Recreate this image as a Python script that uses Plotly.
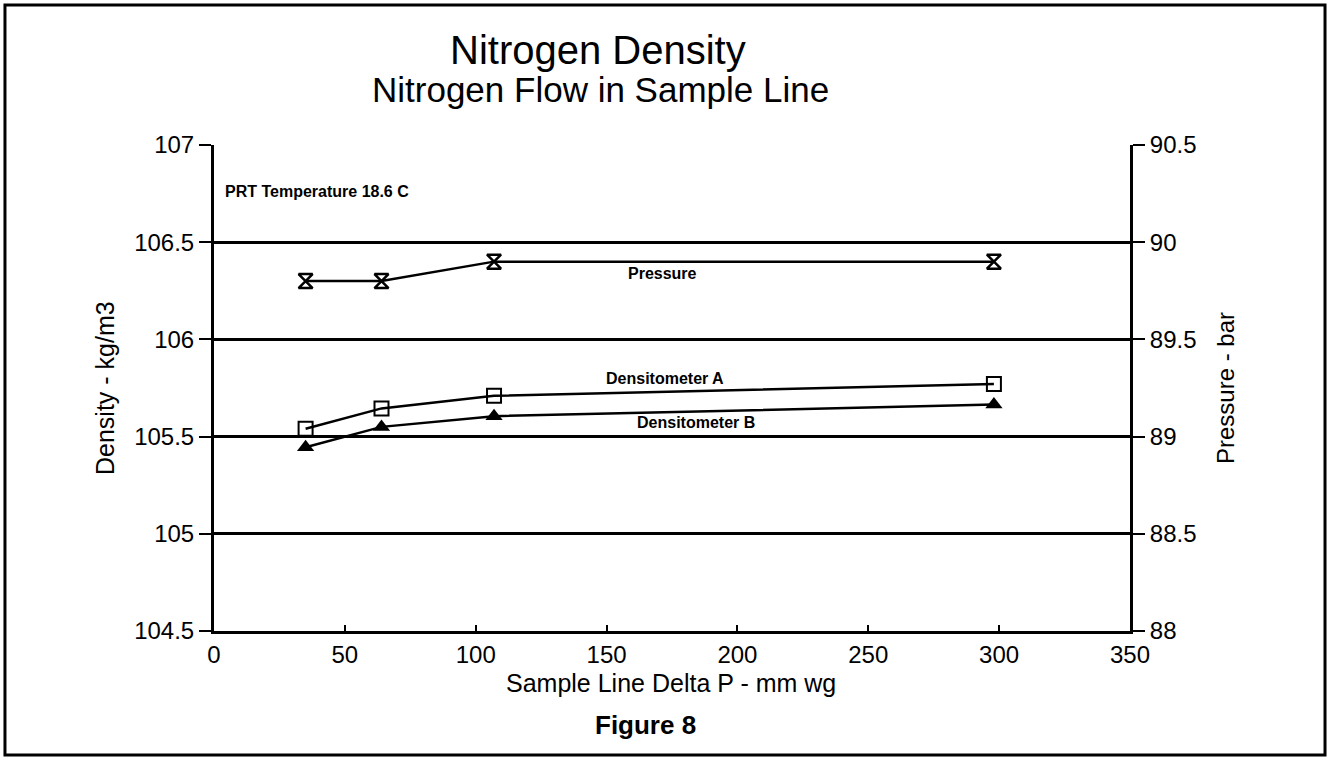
import plotly.graph_objects as go

# ---- data ----
delta_p = [35, 64, 107, 298]                      # Sample Line Delta P - mm wg
density_a = [105.54, 105.645, 105.71, 105.77]     # Densitometer A, kg/m3
density_b = [105.445, 105.55, 105.605, 105.665]   # Densitometer B, kg/m3
pressure = [89.8, 89.8, 89.9, 89.9]               # Pressure, bar

x_ticks = [0, 50, 100, 150, 200, 250, 300, 350]
y_ticks = [104.5, 105, 105.5, 106, 106.5, 107]
y2_ticks = [88, 88.5, 89, 89.5, 90, 90.5]

FONT = "Liberation Sans, Arial, sans-serif"
BLACK = "black"

fig = go.Figure()

fig.add_trace(go.Scatter(
    x=delta_p, y=density_a, mode="lines+markers", name="Densitometer A",
    line=dict(color=BLACK, width=2.5),
    marker=dict(symbol="square-open", size=14, color=BLACK, line=dict(width=2, color=BLACK)),
))
fig.add_trace(go.Scatter(
    x=delta_p, y=density_b, mode="lines+markers", name="Densitometer B",
    line=dict(color=BLACK, width=2.5),
    marker=dict(symbol="triangle-up", size=15, color=BLACK),
))
fig.add_trace(go.Scatter(
    x=delta_p, y=pressure, mode="lines+markers", name="Pressure", yaxis="y2",
    line=dict(color=BLACK, width=2.5),
    marker=dict(symbol="hourglass-open", size=14, color=BLACK, line=dict(width=2.5, color=BLACK)),
))

axis_font = dict(family=FONT, size=24, color=BLACK)

fig.update_layout(
    width=1330, height=758,
    margin=dict(l=214, r=200, t=145, b=127),
    paper_bgcolor="white", plot_bgcolor="white",
    showlegend=False,
    font=dict(family=FONT, color=BLACK),
    xaxis=dict(
        range=[0, 350], tickvals=x_ticks, ticks="inside", ticklen=6, tickwidth=2,
        tickcolor=BLACK, showgrid=False, zeroline=False, showline=True,
        linecolor=BLACK, linewidth=3, tickfont=axis_font,
    ),
    yaxis=dict(
        range=[104.5, 107], tickvals=y_ticks, ticks="outside", ticklen=12, tickwidth=2,
        tickcolor=BLACK, showgrid=True, gridcolor=BLACK, gridwidth=2.5, zeroline=False,
        showline=True, linecolor=BLACK, linewidth=3, tickfont=axis_font,
    ),
    yaxis2=dict(
        range=[88, 90.5], tickvals=y2_ticks, overlaying="y", side="right",
        ticks="outside", ticklen=12, tickwidth=2, tickcolor=BLACK, showgrid=False,
        zeroline=False, showline=True, linecolor=BLACK, linewidth=3, tickfont=axis_font,
    ),
)

# outer frame
fig.add_shape(type="rect", xref="paper", yref="paper",
              x0=-0.2282, x1=1.2129, y0=-0.2551, y1=1.2881,
              line=dict(color=BLACK, width=3), fillcolor="rgba(0,0,0,0)")

# titles and axis labels
ann = []
ann.append(dict(text="Nitrogen Density", x=0.4192, y=1.1955, font=dict(family=FONT, size=40, color=BLACK)))
ann.append(dict(text="Nitrogen Flow in Sample Line", x=0.4214, y=1.1132, font=dict(family=FONT, size=35, color=BLACK)))
ann.append(dict(text="Sample Line Delta P - mm wg", x=0.4989, y=-0.107, font=dict(family=FONT, size=25, color=BLACK)))
ann.append(dict(text="<b>Figure 8</b>", x=0.4716, y=-0.1934, font=dict(family=FONT, size=26, color=BLACK)))
ann.append(dict(text="Density - kg/m3", x=-0.119, y=0.5, textangle=-90, font=dict(family=FONT, size=25, color=BLACK)))
ann.append(dict(text="Pressure - bar", x=1.1037, y=0.5, textangle=-90, font=dict(family=FONT, size=24, color=BLACK)))
for a in ann:
    a.update(xref="paper", yref="paper", showarrow=False, xanchor="center", yanchor="middle")
    fig.add_annotation(**a)

# in-plot labels (data coordinates)
lab_font = dict(family=FONT, size=16, color=BLACK)
fig.add_annotation(x=3.4, y=106.76, xref="x", yref="y", text="<b>PRT Temperature 18.6 C</b>",
                   showarrow=False, xanchor="left", yanchor="middle", font=lab_font)
fig.add_annotation(x=171.5, y=106.34, xref="x", yref="y", text="<b>Pressure</b>",
                   showarrow=False, xanchor="center", yanchor="middle", font=lab_font)
fig.add_annotation(x=172.5, y=105.80, xref="x", yref="y", text="<b>Densitometer A</b>",
                   showarrow=False, xanchor="center", yanchor="middle", font=lab_font)
fig.add_annotation(x=184, y=105.57, xref="x", yref="y", text="<b>Densitometer B</b>",
                   showarrow=False, xanchor="center", yanchor="middle", font=lab_font)

fig.write_html("out.html")
